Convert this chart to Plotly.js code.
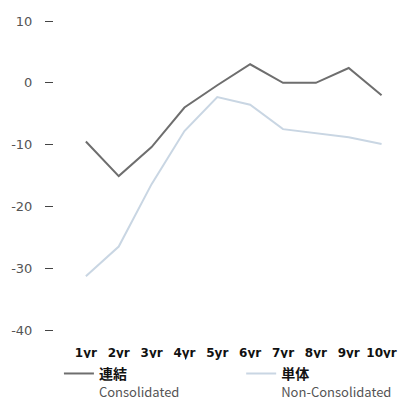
<!DOCTYPE html>
<html><head><meta charset="utf-8">
<script src="https://cdn.plot.ly/plotly-3.0.1.min.js"></script>
<style>html,body{margin:0;padding:0;background:#fff}#c{width:418px;height:409px}</style>
</head><body><div id="c"></div>
<script>
const categories = ["1yr","2yr","3yr","4yr","5yr","6yr","7yr","8yr","9yr","10yr"];
const consolidated = [-9.5,-15.1,-10.4,-4.0,-0.4,3.0,0.0,0.0,2.4,-2.0];
const nonConsolidated = [-31.3,-26.5,-16.4,-7.8,-2.3,-3.55,-7.5,-8.1,-8.8,-9.9];
const yTicks = [10,0,-10,-20,-30,-40];

const traces = [
  {x: categories, y: consolidated, type:'scatter', mode:'lines', legend:'legend',
   name:'<b>連結</b><br><span style="color:#555;font-size:13px">Consolidated</span>',
   line:{color:'#6e6e6e', width:2}},
  {x: categories, y: nonConsolidated, type:'scatter', mode:'lines', legend:'legend2',
   name:'<b>単体</b><br><span style="color:#555;font-size:13px">Non-Consolidated</span>',
   line:{color:'#c9d6e3', width:2}}
];
const legendBase = {xref:'container', yref:'container', xanchor:'left', y:0.125, yanchor:'top', valign:'top',
  font:{size:14, color:'#111', family:'"Noto Sans CJK JP", "DejaVu Sans", sans-serif'}, itemwidth:30};
const layout = {
  width:418, height:409,
  margin:{l:54, r:20, t:21, b:79, autoexpand:false},
  paper_bgcolor:'#fff', plot_bgcolor:'#fff',
  font:{family:'"DejaVu Sans", "Noto Sans CJK JP", sans-serif', color:'#222'},
  showlegend:true,
  xaxis:{type:'category', range:[-0.97,9.5], showgrid:false, zeroline:false, showline:false,
    ticks:'', tickfont:{size:12, color:'#111', family:'"DejaVu Sans", sans-serif', weight:'bold'},
    ticklabelstandoff:14, fixedrange:true},
  yaxis:{range:[-40,10], tickvals:yTicks, ticktext:yTicks.map(String), showgrid:false, zeroline:false, showline:false,
    ticks:'outside', ticklen:8, tickwidth:1, tickcolor:'#444',
    tickfont:{size:13, color:'#555'}, ticklabelstandoff:10},
  legend:Object.assign({}, legendBase, {x:0.141}),
  legend2:Object.assign({}, legendBase, {x:0.577})
};
Plotly.newPlot('c', traces, layout, {displayModeBar:false, staticPlot:true});
</script></body></html>
